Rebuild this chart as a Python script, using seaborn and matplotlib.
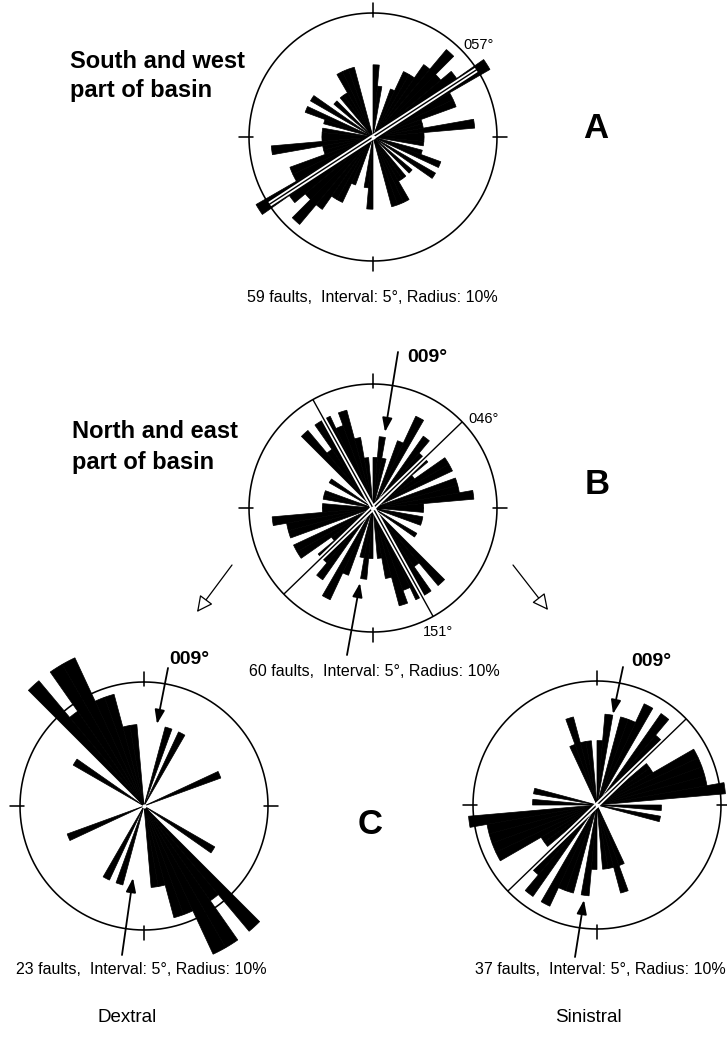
import numpy as np
import matplotlib
matplotlib.use("Agg")
import matplotlib.pyplot as plt
import matplotlib.patheffects as pe
import seaborn as sns

sns.set_theme(style="white")
plt.rcParams["font.family"] = ["Liberation Sans", "DejaVu Sans"]
plt.rcParams["text.color"] = "black"

# start of each 5-degree class (axial data, mirrored to the opposite half)
bin_start = np.arange(0, 180, 5)

# number of faults in each class
counts_sw = [2, 1, 0, 0, 1, 2, 2, 3, 5, 3, 4, 7, 3, 3, 1, 1, 4, 1,
             1, 1, 0, 1, 2, 0, 2, 0, 1, 0, 1, 1, 2, 2, 2, 0, 0, 0]
counts_ne = [1, 2, 1, 0, 2, 4, 0, 3, 2, 2, 1, 3, 3, 0, 3, 3, 4, 1,
             1, 0, 1, 1, 0, 0, 1, 0, 0, 4, 2, 4, 4, 3, 4, 2, 1, 0]
counts_dextral = [0, 0, 0, 1, 0, 1, 0, 0, 0, 0, 0, 0, 0, 1, 0, 0, 0, 0,
                  0, 0, 0, 0, 0, 0, 1, 0, 0, 4, 2, 4, 4, 2, 2, 1, 1, 0]
counts_sinistral = [1, 2, 0, 2, 2, 3, 0, 3, 2, 0, 1, 1, 3, 3, 3, 3, 4, 0,
                    1, 0, 1, 0, 0, 0, 0, 0, 0, 0, 0, 0, 0, 1, 2, 1, 1, 0]

n_sw, n_ne, n_dextral, n_sinistral = 59, 60, 23, 37
radius_pct = 10          # outer circle = 10 %
interval = 5

# marked trends (degrees)
trend_sw = [57]
trend_ne = [46, 151]
trend_sinistral = [46]
trend_slip = 9

W, H = 727, 1038
fig = plt.figure(figsize=(W / 100, H / 100), dpi=100)
fig.patch.set_facecolor("white")

R_CIRCLE = 124            # pixel radius of the 10 % circle
R_AX = 200                # pixel radius of each polar axes
r_max = radius_pct * (R_AX / R_CIRCLE) ** 2


def rose(cx, cy, counts, n, trends=()):
    ax = fig.add_axes([(cx - R_AX) / W, (H - cy - R_AX) / H,
                       2 * R_AX / W, 2 * R_AX / H], projection="polar")
    ax.set_theta_zero_location("N")
    ax.set_theta_direction(-1)
    # equal-area rose: radius grows with the square root of the percentage
    ax.set_rscale("function",
                  functions=(lambda r: np.sqrt(np.clip(r, 0, None)),
                             lambda r: np.square(r)))
    ax.set_rlim(0, r_max)
    ax.set_axis_off()

    pct = np.asarray(counts, dtype=float) / n * 100
    width = np.deg2rad(interval)
    for offset in (0, 180):
        ax.bar(np.deg2rad(bin_start + interval / 2 + offset), pct,
               width=width, bottom=0, color="black", edgecolor="black",
               linewidth=0.5, zorder=2)

    for az in trends:
        for a in (az, az + 180):
            ax.plot([np.deg2rad(a)] * 2, [0, radius_pct], color="black",
                    lw=1.0, zorder=3, solid_capstyle="butt",
                    path_effects=[pe.Stroke(linewidth=3.6, foreground="white"),
                                  pe.Normal()])

    th = np.linspace(0, 2 * np.pi, 721)
    ax.plot(th, np.full_like(th, radius_pct), color="black", lw=1.15, zorder=4)
    for a in (0, 90, 180, 270):
        ax.plot([np.deg2rad(a)] * 2,
                [radius_pct * 0.97 ** 2, radius_pct * 1.08 ** 2],
                color="black", lw=1.15, zorder=4)
    ax.plot([0], [0], "o", ms=3, mfc="white", mec="none", zorder=5)
    return ax


rose(373, 137, counts_sw, n_sw, trend_sw)
rose(373, 508, counts_ne, n_ne, trend_ne)
rose(144, 806, counts_dextral, n_dextral)
rose(597, 805, counts_sinistral, n_sinistral, trend_sinistral)

# overlay in pixel coordinates for labels and arrows
ov = fig.add_axes([0, 0, 1, 1], zorder=10)
ov.set_xlim(0, W)
ov.set_ylim(H, 0)
ov.set_axis_off()

title_kw = dict(fontsize=17, fontweight="bold", ha="left", va="center")
ov.text(70, 62, "South and west", **title_kw)
ov.text(70, 91, "part of basin", **title_kw)
ov.text(72, 432, "North and east", **title_kw)
ov.text(72, 462, "part of basin", **title_kw)

letter_kw = dict(fontsize=25, fontweight="bold", ha="center", va="center")
ov.text(596, 128, "A", **letter_kw)
ov.text(597, 485, "B", **letter_kw)
ov.text(370, 825, "C", **letter_kw)


def caption(n):
    return f"{n} faults,  Interval: {interval}°, Radius: {radius_pct}%"


cap_kw = dict(fontsize=11.5, ha="center", va="center")
ov.text(372, 298, caption(n_sw), **cap_kw)
ov.text(374, 672, caption(n_ne), **cap_kw)
ov.text(141, 970, caption(n_dextral), **cap_kw)
ov.text(600, 970, caption(n_sinistral), **cap_kw)

ov.text(127, 1018, "Dextral", fontsize=13.5, ha="center", va="center")
ov.text(588, 1018, "Sinistral", fontsize=13.5, ha="center", va="center")

deg_kw = dict(fontsize=10.5, ha="center", va="center")
ov.text(479, 45, f"{trend_sw[0]:03d}°", **deg_kw)
ov.text(484, 419, f"{trend_ne[0]:03d}°", **deg_kw)
ov.text(438, 632, f"{trend_ne[1]:03d}°", **deg_kw)

slip_kw = dict(fontsize=14, fontweight="bold", ha="center", va="center")
ov.text(427, 358, f"{trend_slip:03d}°", **slip_kw)
ov.text(189, 660, f"{trend_slip:03d}°", **slip_kw)
ov.text(651, 661, f"{trend_slip:03d}°", **slip_kw)

solid = dict(arrowstyle="-|>,head_length=0.7,head_width=0.25",
             color="black", lw=1.3, shrinkA=0, shrinkB=0, mutation_scale=12)
for start, end in [((398, 352), (385, 432)), ((347, 655), (360, 583)),
                   ((168, 668), (157, 724)), ((122, 955), (133, 878)),
                   ((623, 667), (613, 714)), ((575, 957), (584, 900))]:
    ov.annotate("", xy=end, xytext=start, arrowprops=solid)

hollow = dict(arrowstyle="-|>,head_length=0.7,head_width=0.35",
              fc="white", ec="black", lw=0.9, shrinkA=0, shrinkB=0,
              mutation_scale=14)
for start, end in [((232, 565), (197, 612)), ((513, 565), (548, 610))]:
    ov.annotate("", xy=end, xytext=start, arrowprops=hollow)

fig.savefig("out.png", dpi=100, facecolor="white")
